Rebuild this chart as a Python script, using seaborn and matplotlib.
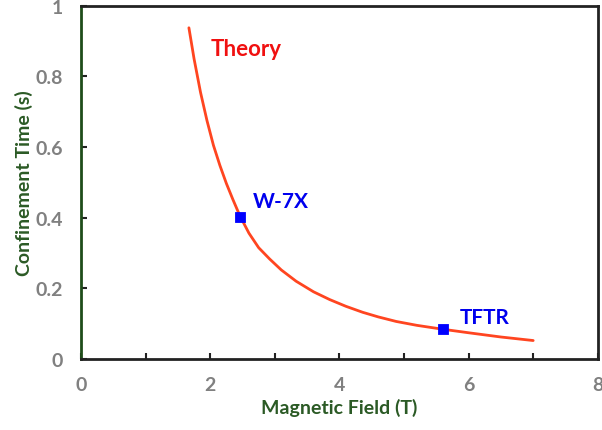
import pandas as pd
import seaborn as sns
import matplotlib.pyplot as plt

# theory curve
field = [1.67, 1.75, 1.85, 1.95, 2.05, 2.15, 2.25, 2.35, 2.46, 2.6, 2.75, 2.92, 3.1,
         3.33, 3.6, 3.85, 4.1, 4.36, 4.6, 4.88, 5.2, 5.6, 6.0, 6.5, 7.0]
tau = [0.938, 0.85, 0.755, 0.675, 0.605, 0.548, 0.497, 0.452, 0.405, 0.356, 0.315, 0.283, 0.252,
       0.22, 0.19, 0.168, 0.149, 0.132, 0.119, 0.106, 0.095, 0.084, 0.074, 0.062, 0.052]

# experiments
machines = ['W-7X', 'TFTR']
machine_field = [2.46, 5.6]
machine_tau = [0.402, 0.085]

x_ticks = [0, 2, 4, 6, 8]
y_ticks = [0, 0.2, 0.4, 0.6, 0.8, 1]

green = '#2b5a25'
grey = '#808080'

sns.set_theme(style="ticks")
plt.rcParams['font.family'] = ['Lato', 'DejaVu Sans']

df = pd.DataFrame({'field': field, 'tau': tau})
pts = pd.DataFrame({'name': machines, 'field': machine_field, 'tau': machine_tau})

fig = plt.figure(figsize=(6.02, 4.31), dpi=100)
ax = fig.add_axes([0.1346, 0.165, 0.8584, 0.819])

sns.lineplot(data=df, x='field', y='tau', color='#ff4520', linewidth=2, ax=ax)
sns.scatterplot(data=pts, x='field', y='tau', marker='s', s=55, color='#0000ff',
                edgecolor='#0000ff', ax=ax, zorder=3)

ax.text(2.01, 0.878, 'Theory', color='#f01010', fontsize=16, fontweight='bold', va='center')
for name, x, y in zip(machines, [2.66, 5.87], [0.448, 0.119]):
    ax.text(x, y, name, color='#0000ee', fontsize=15, fontweight='bold', va='center')

ax.set_xlim(0, 8)
ax.set_ylim(0, 1)
ax.set_xticks(x_ticks)
ax.set_xticks([1, 3, 5, 7], minor=True)
ax.set_yticks(y_ticks)
ax.set_xticklabels(x_ticks)
ax.set_yticklabels(['0', '0.2', '0.4', '0.6', '0.8', '1'])
ax.tick_params(which='both', direction='in', length=4, width=1.5, colors='#222222',
               labelcolor=grey, labelsize=14)
ax.tick_params(axis='x', pad=12)
ax.tick_params(axis='y', pad=13)
for lab in ax.get_xticklabels() + ax.get_yticklabels():
    lab.set_fontweight('bold')

ax.set_xlabel('Magnetic Field (T)', color=green, fontsize=14, fontweight='bold', labelpad=4)
ax.set_ylabel('Confinement Time (s)', color=green, fontsize=14, fontweight='bold', labelpad=2)

for side in ['top', 'right', 'bottom']:
    ax.spines[side].set_color('#222222')
    ax.spines[side].set_linewidth(2)
ax.spines['left'].set_color('#1f4d1a')
ax.spines['left'].set_linewidth(2)

plt.savefig('out.png', dpi=100)
